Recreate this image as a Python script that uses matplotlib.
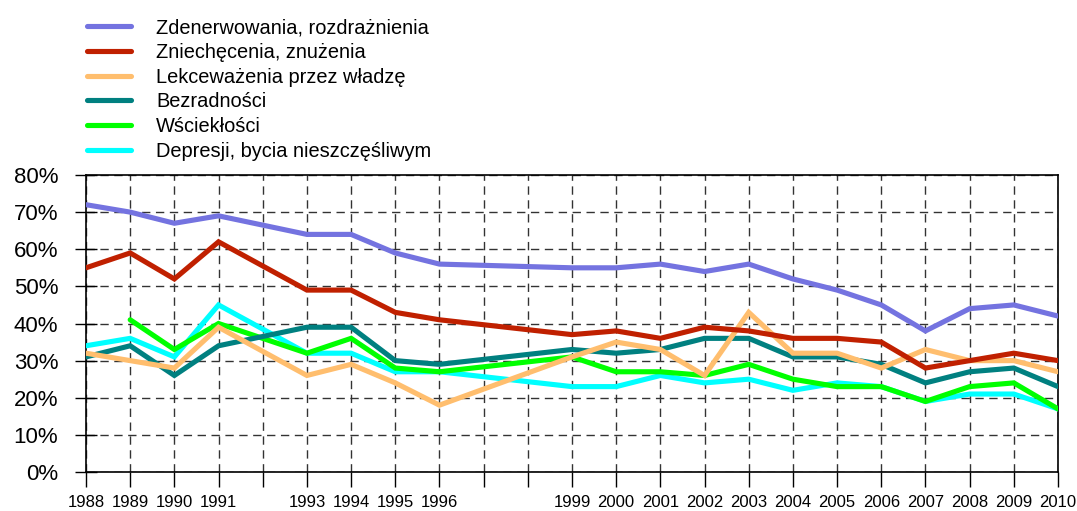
import numpy as np
import matplotlib
matplotlib.use("Agg")
import matplotlib.pyplot as plt
from matplotlib.ticker import FuncFormatter

plt.rcParams['font.family'] = ['Liberation Sans', 'DejaVu Sans']

# dane
lata = [1988, 1989, 1990, 1991, 1993, 1994, 1995, 1996, 1999, 2000,
        2001, 2002, 2003, 2004, 2005, 2006, 2007, 2008, 2009, 2010]

zdenerwowania = [72, 70, 67, 69, 64, 64, 59, 56, 55, 55, 56, 54, 56, 52, 49, 45, 38, 44, 45, 42]
zniechecenia = [55, 59, 52, 62, 49, 49, 43, 41, 37, 38, 36, 39, 38, 36, 36, 35, 28, 30, 32, 30]
lekcewazenia = [32, 30, 28, 39, 26, 29, 24, 18, 31, 35, 33, 26, 43, 32, 32, 28, 33, 30, 30, 27]
bezradnosci = [31, 34, 26, 34, 39, 39, 30, 29, 33, 32, 33, 36, 36, 31, 31, 29, 24, 27, 28, 23]
wscieklosci = [np.nan, 41, 33, 40, 32, 36, 28, 27, 31, 27, 27, 26, 29, 25, 23, 23, 19, 23, 24, 17]
depresji = [34, 36, 31, 45, 32, 32, 27, 27, 23, 23, 26, 24, 25, 22, 24, 23, 19, 21, 21, 17]

serie = [
    ("Zdenerwowania, rozdrażnienia", zdenerwowania, "#7473E0"),
    ("Zniechęcenia, znużenia", zniechecenia, "#C02000"),
    ("Lekceważenia przez władzę", lekcewazenia, "#FFBE6E"),
    ("Bezradności", bezradnosci, "#008080"),
    ("Wściekłości", wscieklosci, "#00FF00"),
    ("Depresji, bycia nieszczęśliwym", depresji, "#00FFFF"),
]

fig = plt.figure(figsize=(10.77, 5.11), dpi=100)
ax = fig.add_axes([86 / 1077, 39 / 511, 972 / 1077, 297 / 511])

linie = []
for i, (nazwa, wart, kolor) in enumerate(serie):
    l, = ax.plot(lata, wart, color=kolor, lw=3.7, label=nazwa,
                 solid_capstyle='round', solid_joinstyle='miter',
                 zorder=10 - i)
    linie.append(l)

ax.set_xlim(1988, 2010)
ax.set_ylim(0, 80)

wszystkie_lata = list(range(1988, 2011))
ax.set_xticks(wszystkie_lata)
ax.set_xticklabels([str(r) if r in lata else "" for r in wszystkie_lata])
ax.set_yticks(range(0, 81, 10))
ax.yaxis.set_major_formatter(FuncFormatter(lambda v, p: f"{int(v)}%"))

ax.tick_params(axis='x', direction='out', length=11, width=1, labelsize=12, pad=5.5)
ax.tick_params(axis='y', direction='inout', length=16, width=1, labelsize=16, pad=12)

ax.grid(True, color='#333333', lw=1, linestyle=(0, (6, 4)))
for s in ax.spines.values():
    s.set_linewidth(1.2)
    s.set_color('black')

leg = fig.legend(handles=linie, loc='upper left',
                 bbox_to_anchor=(87 / 1077, 1 - 18 / 511),
                 frameon=False, fontsize=14.4, handlelength=2.2,
                 handletextpad=1.25, labelspacing=0.29, borderpad=0,
                 borderaxespad=0)
for h in leg.get_lines():
    h.set_linewidth(3.7)
    h.set_solid_capstyle('round')

fig.savefig("out.png", dpi=100)
